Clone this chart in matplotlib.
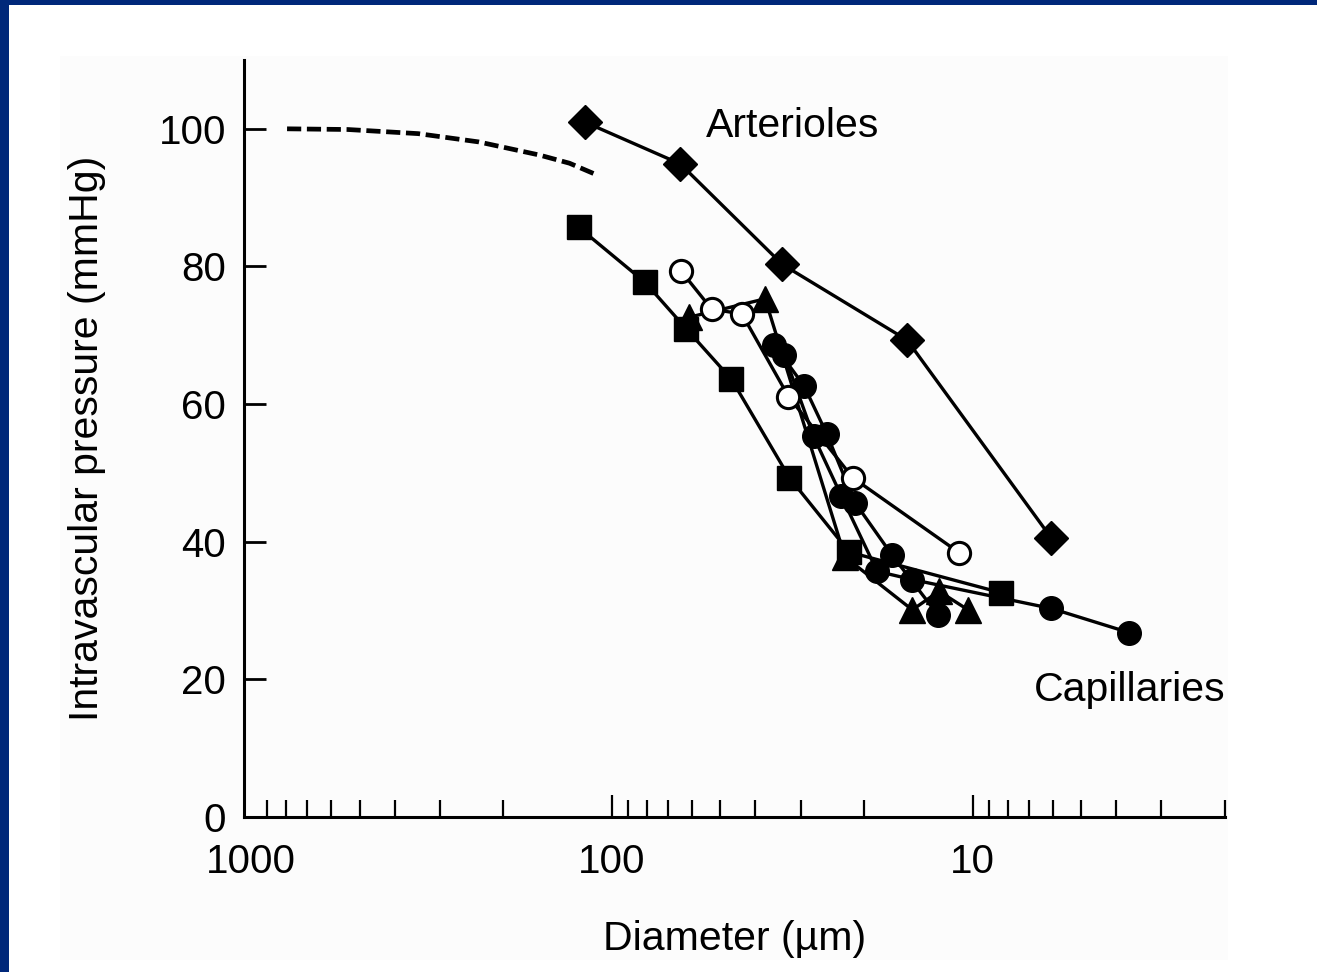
import matplotlib
matplotlib.use("Agg")
import matplotlib.pyplot as plt
from matplotlib.patches import Rectangle
from matplotlib.ticker import LogLocator, NullFormatter, FixedLocator, FixedFormatter

plt.rcParams['font.family'] = ['Liberation Sans', 'DejaVu Sans']

# Intravascular pressure (mmHg) against vessel diameter (µm)
arteriole_diam = [119, 64.6, 33.7, 15.2, 6.05]
arteriole_press = [101.0, 94.9, 80.3, 69.3, 40.5]

square_diam = [123.6, 80.9, 62.1, 46.6, 32.2, 22.0, 8.36]
square_press = [85.7, 77.7, 70.9, 63.6, 49.3, 38.5, 32.6]

open_diam = [64.2, 52.9, 43.6, 32.4, 21.5, 10.9]
open_press = [79.3, 73.8, 73.1, 61.1, 49.3, 38.4]

tri_diam = [61.3, 37.6, 22.6, 14.7, 12.4, 10.3]
tri_press = [72.6, 75.3, 37.8, 30.1, 32.8, 30.1]

circ1_diam = [35.5, 29.3, 25.4, 21.2, 16.7, 12.5]
circ1_press = [68.6, 62.6, 55.7, 45.7, 38.0, 29.4]

circ2_diam = [33.3, 27.6, 23.1, 18.4, 14.7, 6.05, 3.69]
circ2_press = [67.2, 55.3, 46.6, 35.7, 34.5, 30.3, 26.8]

# Large-artery pressure trend (dashed)
trend_diam = [794, 539, 344, 234, 159, 131, 110]
trend_press = [100.0, 99.9, 99.3, 98.1, 96.2, 95.0, 93.3]

y_ticks = [0, 20, 40, 60, 80, 100]
x_ticks = [1000, 100, 10]
x_tick_labels = ["1000", "100", "10"]

W, H = 1317, 972
fig = plt.figure(figsize=(W / 100, H / 100), dpi=100)
fig.patch.set_facecolor('#00287a')

# page and panel backgrounds
fig.patches.append(Rectangle((9 / W, 0), 1 - 9 / W, 1 - 5 / H, transform=fig.transFigure,
                             facecolor='white', edgecolor='none', zorder=-10))
fig.patches.append(Rectangle((60 / W, 1 - 960 / H), (1228 - 60) / W, (960 - 56) / H,
                             transform=fig.transFigure, facecolor='#fcfcfc',
                             edgecolor='none', zorder=-9))

ax = fig.add_axes([244 / W, 1 - 817 / H, (1225 - 244) / W, (817 - 60) / H])
ax.set_facecolor('none')

lw = 2.4
ms_kw = dict(color='black', linewidth=lw, markeredgecolor='black')

ax.plot(trend_diam, trend_press, color='black', linewidth=3.4,
        dashes=(3.0, 1.2), solid_capstyle='butt', zorder=2)

ax.plot(arteriole_diam, arteriole_press, marker='D', markersize=17,
        markerfacecolor='black', zorder=3, **ms_kw)
ax.plot(square_diam, square_press, marker='s', markersize=17,
        markerfacecolor='black', zorder=3, **ms_kw)
ax.plot(tri_diam, tri_press, marker='^', markersize=19,
        markerfacecolor='black', zorder=3, **ms_kw)
ax.plot(circ1_diam, circ1_press, marker='o', markersize=17,
        markerfacecolor='black', zorder=3, **ms_kw)
ax.plot(circ2_diam, circ2_press, marker='o', markersize=17,
        markerfacecolor='black', zorder=3, **ms_kw)
ax.plot(open_diam, open_press, marker='o', markersize=16,
        markerfacecolor='white', markeredgewidth=2.2, zorder=4, **ms_kw)

ax.text(55, 100.4, "Arterioles", fontsize=29.5, ha='left', va='center')
ax.text(6.75, 18.5, "Capillaries", fontsize=29.5, ha='left', va='center')

ax.set_xscale('log')
ax.set_xlim(1045, 2)
ax.set_ylim(0, 110)

ax.xaxis.set_major_locator(FixedLocator(x_ticks))
ax.xaxis.set_major_formatter(FixedFormatter(x_tick_labels))
ax.xaxis.set_minor_locator(LogLocator(base=10, subs=range(2, 10)))
ax.xaxis.set_minor_formatter(NullFormatter())
ax.set_yticks(y_ticks)

for s in ('top', 'right'):
    ax.spines[s].set_visible(False)
for s in ('left', 'bottom'):
    ax.spines[s].set_linewidth(2.2)

ax.tick_params(axis='y', direction='in', length=16, width=2, labelsize=29, pad=13)
ax.tick_params(axis='x', which='major', direction='in', length=16, width=1.6,
               labelsize=29, pad=19)
ax.tick_params(axis='x', which='minor', direction='in', length=12, width=1.6)
# the 1000 label sits at the corner; its tick line is hidden
ax.xaxis.get_major_ticks()[0].tick1line.set_visible(False)

ax.set_xlabel("Diameter (µm)", fontsize=29.5, labelpad=28)
ax.set_ylabel("Intravascular pressure (mmHg)", fontsize=29.5, labelpad=38)

fig.savefig("out.png", dpi=100, facecolor=fig.get_facecolor())
